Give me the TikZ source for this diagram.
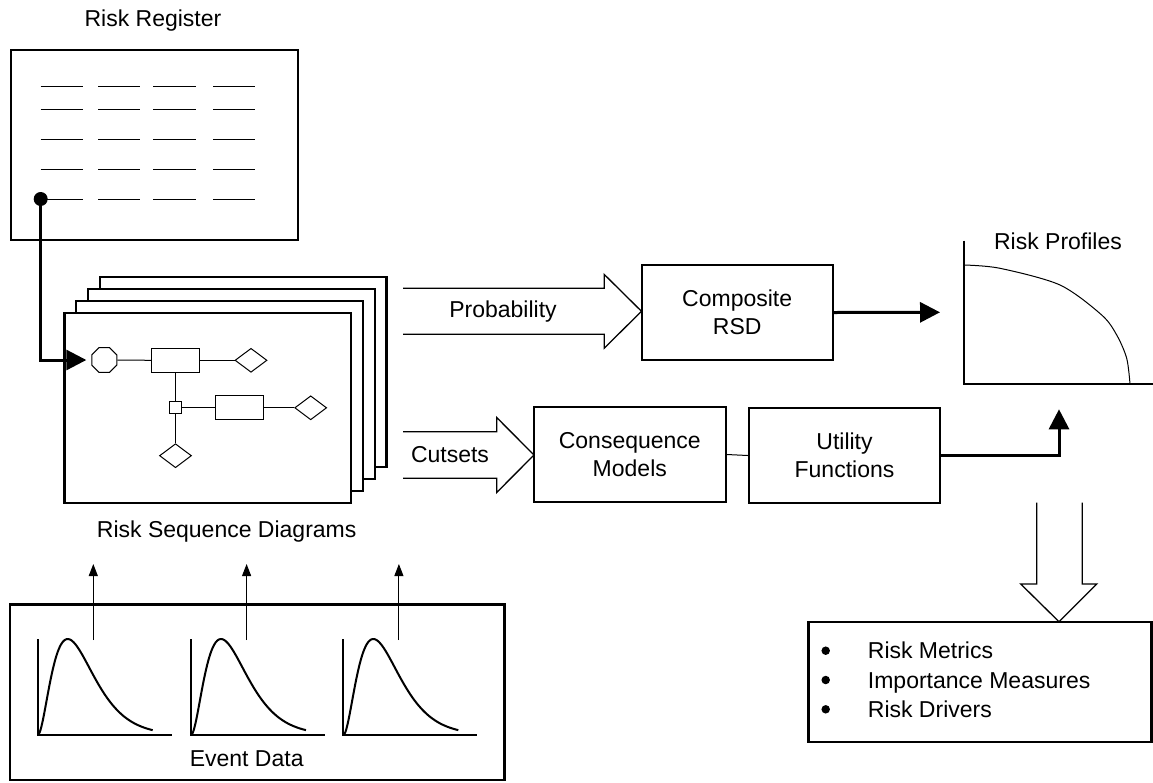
\documentclass[tikz,border=0pt]{standalone}
\usepackage{fontspec}
\setmainfont{Liberation Sans}
\usetikzlibrary{arrows.meta,shapes.geometric}
\begin{document}
\begin{tikzpicture}[x=1pt,y=-1pt,
  txt/.style={font=\fontsize{23}{28}\selectfont, inner sep=0pt, align=center},
  box/.style={draw, line width=2.3pt, fill=white, inner sep=0pt, align=center,
              font=\fontsize{23}{28}\selectfont},
  pagebox/.style={draw, line width=2.3pt, fill=white, minimum width=286.7pt,
                  minimum height=190.3pt, inner sep=0pt},
  elem/.style={draw, line width=1pt, fill=white, inner sep=0pt},
  dia/.style={elem, diamond, minimum width=32pt, minimum height=24pt},
  thinline/.style={line width=1pt},
  flow/.style={line width=3pt, -{Triangle[length=20pt,width=20pt]}},
  blockarrow/.style={line width=1.3pt, line join=miter},
  datarrow/.style={line width=1pt, -{Triangle[length=12pt,width=9pt]}},
  axisline/.style={line width=2pt},
  density/.style={line width=2pt},
  bulletdot/.style={circle, fill, inner sep=0pt, minimum size=8.5pt}]
\useasboundingbox (0,0) rectangle (1153,782);

% ---------- risk register ----------
\node[txt] (regtitle) at (153,21) {Risk Register};
\node[box, minimum width=287pt, minimum height=190pt] (reg) at (154.5,145) {};
\foreach \y in {86,109,139,169,199}
  \foreach \a/\b in {40.7/82.7, 98/140, 153/196, 213/255}
    \draw[thinline] (\a,\y) -- (\b,\y);
\node[circle, fill, inner sep=0pt, minimum size=14pt] (dot) at (40.7,199) {};

% ---------- stack of risk sequence diagrams ----------
\foreach \k in {3,2,1,0}
  \node[pagebox] (page\k) at ({207.7+11.8*\k},{407.9-12*\k}) {};

\node[elem, regular polygon, regular polygon sides=8, minimum size=27pt] (oct) at (104.3,360) {};
\node[elem, minimum width=47.6pt, minimum height=24pt] (ra) at (175.5,360.3) {};
\node[dia] (da) at (251,360.3) {};
\node[elem, minimum size=12pt] (sq) at (175.5,407.8) {};
\node[elem, minimum width=48.3pt, minimum height=24.3pt] (rb) at (239.2,407.8) {};
\node[dia] (db) at (310.7,407.8) {};
\node[dia] (dc) at (175.5,455.7) {};
\draw[thinline] (oct.east) -- (ra.west);
\draw[thinline] (ra.east) -- (da.west);
\draw[thinline] (ra.south) -- (sq.north);
\draw[thinline] (sq.east) -- (rb.west);
\draw[thinline] (rb.east) -- (db.west);
\draw[thinline] (sq.south) -- (dc.north);

\draw[flow, shorten >=5pt] (dot.center) |- (oct.west);

\node[txt] (rsdlabel) at (226.7,532) {Risk Sequence Diagrams};

% ---------- probability / cutsets block arrows ----------
\draw[blockarrow] (403,288.3) -- (604.3,288.3) -- (604.3,274.5) -- (641.5,311.3)
  -- (604.3,348.1) -- (604.3,334.3) -- (403,334.3);
\node[txt] (prob) at (503,311.5) {Probability};

\draw[blockarrow] (403,431.7) -- (496.7,431.7) -- (496.7,417.5) -- (534,455)
  -- (496.7,492.5) -- (496.7,478.3) -- (403,478.3);
\node[txt] (cut) at (450,455) {Cutsets};

% ---------- processing boxes ----------
\node[box, minimum width=191pt, minimum height=95pt] (comp) at (737.2,312.5) {Composite\\RSD};
\node[box, minimum width=191.7pt, minimum height=95pt] (cons) at (629.8,454.5) {Consequence\\Models};
\node[box, minimum width=191pt, minimum height=95.6pt] (util) at (844.5,455.5) {Utility\\Functions};
\draw[thinline] (cons.east) -- (util.west);

% ---------- risk profiles ----------
\node[txt] (rptitle) at (1058,241) {Risk Profiles};
\coordinate (axtop) at (964,240.7);
\coordinate (axorig) at (964,384);
\coordinate (axend) at (1153,384);
\draw[axisline, line width=2.3pt] (axtop) -- (axorig) -- (axend);
\draw[thinline] plot[smooth, tension=0.5] coordinates
  {(964,265) (1000,268.3) (1060,285) (1101.7,315) (1116.7,335) (1126.7,358.3) (1130,384)};

\coordinate (rpin) at (940,312.3);
\coordinate (rpup) at (1059,409.3);
\draw[flow] (comp.east) -- (rpin);
\draw[flow] (util.east) -| (rpup);

% ---------- results ----------
\draw[blockarrow] (1036.7,502.7) -- (1036.7,584) -- (1020.7,584) -- (1059,621.7)
  -- (1096.7,584) -- (1082.3,584) -- (1082.3,502.7);
\node[draw, line width=2.3pt, minimum width=343.2pt, minimum height=119.4pt, inner sep=0pt]
  (res) at (980,682) {};
\foreach \t/\y [count=\i] in {Risk Metrics/650.7, Importance Measures/680, Risk Drivers/709.3} {
  \node[bulletdot] (bul\i) at (825.7,\y) {};
  \node[txt, anchor=base west] (item\i) at (867.7,{\y+8.2}) {\t};
}

% ---------- event data ----------
\node[draw, line width=2.3pt, minimum width=494.3pt, minimum height=175.7pt, inner sep=0pt]
  (events) at (257.2,692.2) {};
\node[txt] (evlabel) at (246.7,759) {Event Data};
\foreach \ox/\nm in {37.7/a, 191/b, 343.3/c} {
  \draw[axisline] (\ox,639.3) -- (\ox,735) -- ({\ox+134},735);
  \draw[density] plot[domain=0:115, samples=80, smooth]
    ({\ox+\x},{735-96*(\x/30)^2*exp(2-\x/15)});
  \coordinate (ev\nm) at ({\ox+55.6},640);
  \coordinate (evtip\nm) at ({\ox+55.6},564);
  \draw[datarrow] (ev\nm) -- (evtip\nm);
}
\end{tikzpicture}
\end{document}
